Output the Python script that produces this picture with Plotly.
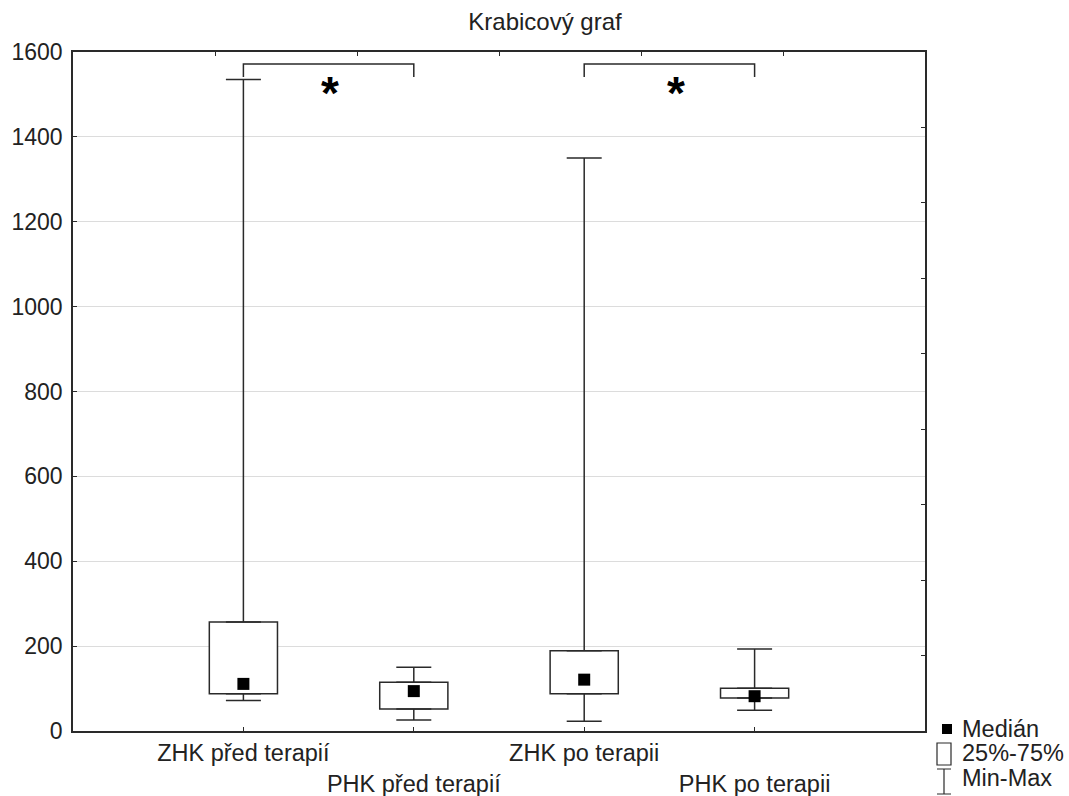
import plotly.graph_objects as go

# ---- data ----
categories = ["ZHK před terapií", "PHK před terapií", "ZHK po terapii", "PHK po terapii"]
tick_labels = ["ZHK před terapií", "<br>PHK před terapií", "ZHK po terapii", "<br>PHK po terapii"]
positions = [1, 2, 3, 4]
minimum = [72, 26, 23, 49]
q1 = [88, 52, 88, 78]
median = [111, 94, 121, 82]
q3 = [257, 115, 189, 101]
maximum = [1535, 150, 1350, 193]
# significance brackets (pairs of positions) and star positions
brackets = [(1, 2), (3, 4)]
star_x = [1.51, 3.54]
bracket_top = 1572
bracket_drop = 1541
star_y = 1527

y_ticks = [0, 200, 400, 600, 800, 1000, 1200, 1400, 1600]

# ---- layout geometry ----
W, H = 1069, 796
L, R, T, B = 73, 925, 52, 731
FONT = "Liberation Sans, Arial, sans-serif"
INK = "#222222"
LINE = "#2a2a2a"

def px(xp):
    return (xp - L) / (R - L)

def py(yp):
    return (B - yp) / (B - T)

fig = go.Figure()

# boxes (25%-75%)
fig.add_trace(go.Bar(
    x=positions,
    y=[b - a for a, b in zip(q1, q3)],
    base=q1,
    width=0.4,
    marker=dict(color="white", line=dict(color=LINE, width=1.5)),
    showlegend=False, hoverinfo="skip",
))

# upper whiskers
fig.add_trace(go.Scatter(
    x=positions, y=q3, mode="markers",
    marker=dict(size=1, opacity=0),
    error_y=dict(type="data", symmetric=False,
                 array=[m - a for a, m in zip(q3, maximum)],
                 arrayminus=[0] * len(q3),
                 color=LINE, thickness=1.5, width=17.5),
    showlegend=False, hoverinfo="skip",
))
# lower whiskers
fig.add_trace(go.Scatter(
    x=positions, y=q1, mode="markers",
    marker=dict(size=1, opacity=0),
    error_y=dict(type="data", symmetric=False,
                 array=[0] * len(q1),
                 arrayminus=[a - m for a, m in zip(q1, minimum)],
                 color=LINE, thickness=1.5, width=17.5),
    showlegend=False, hoverinfo="skip",
))
# medians
fig.add_trace(go.Scatter(
    x=positions, y=median, mode="markers",
    marker=dict(symbol="square", size=12, color="black"),
    showlegend=False, hoverinfo="skip",
))

# dummy trace for the secondary (top/right) frame axes
fig.add_trace(go.Scatter(x=[None], y=[None], xaxis="x2", yaxis="y2",
                         showlegend=False, hoverinfo="skip"))

# significance brackets
shapes = []
annotations = []
for (a, b), sx in zip(brackets, star_x):
    shapes.append(dict(type="path", xref="x", yref="y",
                       path=f"M {a},{bracket_drop} L {a},{bracket_top} L {b},{bracket_top} L {b},{bracket_drop}",
                       line=dict(color=LINE, width=1.5)))
    annotations.append(dict(x=sx, y=star_y, xref="x", yref="y",
                            text="<b>*</b>", showarrow=False,
                            font=dict(family=FONT, size=46, color="black"),
                            yanchor="middle", yshift=-10))

# manual legend
shapes.append(dict(type="rect", xref="paper", yref="paper",
                   x0=px(942), x1=px(952), y0=py(734), y1=py(724),
                   fillcolor="black", line=dict(width=0)))
shapes.append(dict(type="rect", xref="paper", yref="paper",
                   x0=px(937), x1=px(951), y0=py(765), y1=py(743),
                   fillcolor="white", line=dict(color=LINE, width=1.2)))
shapes.append(dict(type="path", xref="paper", yref="paper",
                   path=(f"M {px(937)},{py(769)} L {px(951)},{py(769)} "
                         f"M {px(944)},{py(769)} L {px(944)},{py(794)} "
                         f"M {px(937)},{py(794)} L {px(951)},{py(794)}"),
                   line=dict(color=LINE, width=1.2)))
for txt, yy in [("Medián", 729), ("25%-75%", 753), ("Min-Max", 778)]:
    annotations.append(dict(x=px(960), y=py(yy), xref="paper", yref="paper",
                            text=txt, showarrow=False, xanchor="left", yanchor="middle",
                            font=dict(family=FONT, size=23.5, color=INK)))

fig.update_layout(
    width=W, height=H,
    margin=dict(l=L, r=W - R, t=T, b=H - B, pad=0, autoexpand=False),
    paper_bgcolor="white", plot_bgcolor="white",
    font=dict(family=FONT, size=23, color=INK),
    title=dict(text="Krabicový graf", x=545 / W, xref="container", xanchor="center",
               y=1 - 22 / H, yref="container", yanchor="middle",
               font=dict(family=FONT, size=24, color=INK)),
    showlegend=False,
    xaxis=dict(range=[0, 5], tickmode="array", tickvals=positions, ticktext=tick_labels,
               ticks="inside", ticklen=4, tickcolor=LINE, showgrid=False, tickangle=0,
               showline=True, linecolor=LINE, linewidth=1.5, zeroline=False,
               automargin=False,
               tickfont=dict(family=FONT, size=23.5, color=INK), fixedrange=True),
    yaxis=dict(range=[0, 1600], tickmode="array", tickvals=y_ticks,
               ticks="inside", ticklen=4, tickcolor=LINE,
               showgrid=True, gridcolor="#dcdcdc", gridwidth=1,
               showline=True, linecolor=LINE, linewidth=1.5, zeroline=False,
               ticklabelstandoff=4, automargin=False,
               tickfont=dict(family=FONT, size=23, color=INK), fixedrange=True),
    xaxis2=dict(overlaying="x", side="top", range=[0, 6], dtick=1, tick0=0,
                ticks="inside", ticklen=4, tickcolor=LINE, showticklabels=False,
                showgrid=False, zeroline=False, showline=True, linecolor=LINE, linewidth=1.5,
                anchor="y2", automargin=False),
    yaxis2=dict(overlaying="y", side="right", range=[0, 9], dtick=1, tick0=0,
                ticks="inside", ticklen=4, tickcolor=LINE, showticklabels=False,
                showgrid=False, zeroline=False, showline=True, linecolor=LINE, linewidth=1.5,
                anchor="x2", automargin=False),
    shapes=shapes,
    annotations=annotations,
)

fig.write_html("out.html")
